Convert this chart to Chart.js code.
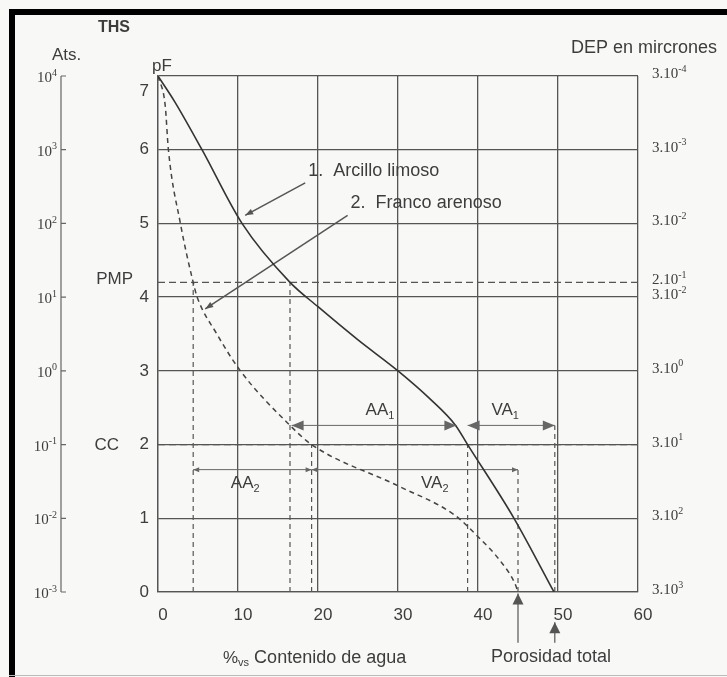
<!DOCTYPE html>
<html>
<head>
<meta charset="utf-8">
<title>Curvas pF - contenido de agua</title>
<script src="https://cdn.jsdelivr.net/npm/chart.js@4.4.0/dist/chart.umd.min.js"></script>
<style>
  html, body { margin: 0; padding: 0; background: #f8f8f7; }
  canvas { display: block; }
</style>
</head>
<body>
<canvas id="grafico" width="727" height="677"></canvas>
<script>
// Curva 1: Arcillo limoso (linea continua)
const arcilloX = [0, 2.1, 5.5, 10.5, 16.5, 20, 25, 30, 34, 37.2, 38.7, 44.5, 49.5];
const arcilloY = [7, 6.65, 6, 5, 4.2, 3.87, 3.42, 3, 2.62, 2.26, 2, 1, 0];

// Curva 2: Franco arenoso (linea discontinua)
const francoX = [0, 0.9, 1.3, 2.8, 4.4, 4.9, 7.3, 10.3, 16.5, 19.2, 30, 37, 40, 42.8, 44.6, 45];
const francoY = [7, 6.6, 6, 5, 4.2, 4, 3.51, 3, 2.26, 2, 1.44, 1.05, 0.75, 0.42, 0.12, 0];

// Lineas de referencia: PMP y CC
const pmp = 4.2;
const cc = 2;

// Verticales discontinuas (x y altura hasta donde llegan)
const guiaX = [4.4, 16.5, 19.2, 38.7, 45, 49.6];
const guiaTope = [4.2, 4.2, 2, 2, 1.66, 2.26];

// Flechas AA1, VA1, AA2, VA2
const flechaY = [2.26, 2.26, 1.66, 1.66];
const flechaIni = [16.7, 38.7, 4.4, 19.2];
const flechaFin = [37.3, 49.6, 19.2, 45];
const flechaNombre = ['AA', 'VA', 'AA', 'VA'];
const flechaSub = ['1', '1', '2', '2'];

// Flechas que señalan las curvas
const guiaCurvaX = [[18.4, 10.9], [23.7, 5.9]];
const guiaCurvaY = [[5.55, 5.11], [5.11, 3.84]];
const nombreCurva = ['1.  Arcillo limoso', '2.  Franco arenoso'];

// Porosidad total (flechas bajo el eje)
const porosidadX = [45, 49.6];
const porosidadTope = [-0.02, -0.41];

// Ejes
const xTicks = [0, 10, 20, 30, 40, 50, 60];
const pfTicks = [0, 1, 2, 3, 4, 5, 6, 7];
const atsExp = ['-3', '-2', '-1', '0', '1', '2', '3', '4'];
const depValor = [7, 6, 5, 4.2, 4, 3, 2, 1, 0];
const depBase = ['3.10', '3.10', '3.10', '2.10', '3.10', '3.10', '3.10', '3.10', '3.10'];
const depExp = ['-4', '-3', '-2', '-1', '-2', '0', '1', '2', '3'];

const GRIS = '#555';
const TEXTO = '#3d3d3d';
const SANS = '"Liberation Sans", Arial, sans-serif';
const SERIF = '"Liberation Serif", "Times New Roman", serif';

function puntos(xs, ys) {
    return xs.map((x, i) => ({ x, y: ys[i] }));
}

function linea(data, extra) {
    return Object.assign({
        data,
        showLine: true,
        borderColor: GRIS,
        borderWidth: 1.2,
        pointRadius: 0,
        fill: false
    }, extra);
}

// Construimos los datasets
const datasets = [];
datasets.push(linea(puntos(arcilloX, arcilloY), {
    borderColor: '#333', borderWidth: 1.6, tension: 0.4, cubicInterpolationMode: 'monotone'
}));
datasets.push(linea(puntos(francoX, francoY), {
    borderColor: '#444', borderWidth: 1.5, borderDash: [5, 4], tension: 0.4, cubicInterpolationMode: 'monotone'
}));
[pmp, cc].forEach(v => {
    datasets.push(linea([{ x: 0, y: v }, { x: 60, y: v }], { borderDash: [7, 4], borderWidth: 1.3 }));
});
guiaX.forEach((x, i) => {
    datasets.push(linea([{ x, y: 0 }, { x, y: guiaTope[i] }], { borderDash: [5, 4], borderWidth: 1.2 }));
});
flechaY.forEach((y, i) => {
    const grande = i < 2;
    datasets.push(linea([{ x: flechaIni[i], y }, { x: flechaFin[i], y }], {
        borderColor: '#666', borderWidth: 1,
        punta: { ini: true, fin: true, largo: grande ? 12 : 6, ancho: grande ? 10 : 5 }
    }));
});
guiaCurvaX.forEach((xs, i) => {
    datasets.push(linea(puntos(xs, guiaCurvaY[i]), {
        borderColor: '#555', borderWidth: 1.5,
        punta: { ini: false, fin: true, largo: 8, ancho: 6 }
    }));
});
porosidadX.forEach((x, i) => {
    datasets.push(linea([{ x, y: -0.69 }, { x, y: porosidadTope[i] }], {
        borderColor: '#555', borderWidth: 1.2, clip: false,
        punta: { ini: false, fin: true, largo: 11, ancho: 11 }
    }));
});

// Dibujamos una punta de flecha en el extremo b
function triangulo(ctx, a, b, largo, ancho) {
    const ang = Math.atan2(b.y - a.y, b.x - a.x);
    ctx.save();
    ctx.translate(b.x, b.y);
    ctx.rotate(ang);
    ctx.beginPath();
    ctx.moveTo(0, 0);
    ctx.lineTo(-largo, -ancho / 2);
    ctx.lineTo(-largo, ancho / 2);
    ctx.closePath();
    ctx.fill();
    ctx.restore();
}

// Texto con partes de distinto tamaño (indices y exponentes)
function escribir(ctx, partes, x, y, align, familia) {
    let ancho = 0;
    partes.forEach(p => {
        ctx.font = (p.peso || '') + ' ' + p.size + 'px ' + (familia || SANS);
        ancho += ctx.measureText(p.t).width;
    });
    let cx = align === 'right' ? x - ancho : (align === 'center' ? x - ancho / 2 : x);
    partes.forEach(p => {
        ctx.font = (p.peso || '') + ' ' + p.size + 'px ' + (familia || SANS);
        ctx.fillText(p.t, cx, y + (p.dy || 0));
        cx += ctx.measureText(p.t).width;
    });
}

const dibujos = {
    id: 'dibujos',
    beforeDraw(chart) {
        const ctx = chart.ctx;
        ctx.save();
        ctx.fillStyle = '#f8f8f7';
        ctx.fillRect(0, 0, chart.width, chart.height);
        ctx.restore();
    },
    afterDatasetsDraw(chart) {
        const ctx = chart.ctx;
        chart.data.datasets.forEach((ds, i) => {
            if (!ds.punta) return;
            const pts = chart.getDatasetMeta(i).data;
            const n = pts.length;
            ctx.save();
            ctx.fillStyle = ds.borderColor;
            if (ds.punta.fin) triangulo(ctx, pts[n - 2], pts[n - 1], ds.punta.largo, ds.punta.ancho);
            if (ds.punta.ini) triangulo(ctx, pts[1], pts[0], ds.punta.largo, ds.punta.ancho);
            ctx.restore();
        });
    },
    afterDraw(chart) {
        const ctx = chart.ctx;
        const xs = chart.scales.x;
        const ys = chart.scales.y;
        const px = v => xs.getPixelForValue(v);
        const py = v => ys.getPixelForValue(v);
        ctx.save();
        ctx.fillStyle = TEXTO;
        ctx.textBaseline = 'middle';
        ctx.textAlign = 'left';

        // Eje exterior de atmosferas
        ctx.strokeStyle = '#666';
        ctx.lineWidth = 1.2;
        ctx.beginPath();
        ctx.moveTo(61, py(7));
        ctx.lineTo(61, py(0));
        pfTicks.forEach(v => {
            ctx.moveTo(61, py(v));
            ctx.lineTo(66, py(v));
        });
        ctx.stroke();
        pfTicks.forEach((v, i) => {
            escribir(ctx, [{ t: '10', size: 15 }, { t: atsExp[i], size: 10, dy: -5 }], 57, py(v) + 2, 'right', SERIF);
        });

        // Etiquetas DEP a la derecha
        depValor.forEach((v, i) => {
            escribir(ctx, [{ t: depBase[i], size: 15 }, { t: depExp[i], size: 10, dy: -5 }], 652, py(v) - 2, 'left', SERIF);
        });

        // Titulos
        escribir(ctx, [{ t: 'THS', size: 16, peso: 'bold' }], 98, 28, 'left');
        escribir(ctx, [{ t: 'Ats.', size: 17 }], 52, 55, 'left');
        escribir(ctx, [{ t: 'pF', size: 17 }], 152, 66, 'left');
        escribir(ctx, [{ t: '7', size: 17 }], 149, py(7) + 15, 'right');
        escribir(ctx, [{ t: 'DEP en mircrones', size: 18 }], 717, 48, 'right');
        escribir(ctx, [{ t: 'PMP', size: 17 }], 133, py(pmp) - 3, 'right');
        escribir(ctx, [{ t: 'CC', size: 17 }], 119, py(cc) + 1, 'right');

        // Nombres de las curvas
        nombreCurva.forEach((t, i) => {
            escribir(ctx, [{ t, size: 18 }], px(guiaCurvaX[i][0]) + 3, py(guiaCurvaY[i][0]) - 12, 'left');
        });

        // AA y VA
        const etiqX = [27.75, 43.4, 10.9, 34.6];
        const etiqY = [2.46, 2.46, 1.47, 1.47];
        flechaNombre.forEach((t, i) => {
            escribir(ctx, [{ t, size: 17 }, { t: flechaSub[i], size: 11, dy: 5 }], px(etiqX[i]), py(etiqY[i]), 'center');
        });

        // Eje x: titulo y porosidad
        escribir(ctx, [{ t: '%', size: 17 }, { t: 'vs', size: 11, dy: 5 }, { t: ' Contenido de agua', size: 18 }], 223, 658, 'left');
        escribir(ctx, [{ t: 'Porosidad total', size: 18 }], 551, 657, 'center');

        // Marco negro del escaneo
        ctx.fillStyle = '#000';
        ctx.fillRect(9, 9, 718, 6);
        ctx.fillRect(9, 9, 6, 668);
        ctx.fillStyle = '#bbb';
        ctx.fillRect(9, 675, 718, 1);
        ctx.restore();
    }
};

Chart.defaults.font.family = SANS;
Chart.defaults.color = TEXTO;

const grafico = new Chart(document.getElementById('grafico'), {
    type: 'scatter',
    data: { datasets },
    options: {
        responsive: false,
        animation: false,
        devicePixelRatio: 1,
        layout: { padding: { top: 76, left: 0, right: 89, bottom: 0 } },
        plugins: { legend: { display: false }, tooltip: { enabled: false } },
        scales: {
            x: {
                type: 'linear', min: 0, max: 60,
                afterFit: s => { s.height = 85; },
                afterBuildTicks: s => { s.ticks = xTicks.map(v => ({ value: v })); },
                ticks: { padding: 13, labelOffset: 5, font: { size: 17 }, color: TEXTO },
                grid: { color: GRIS, lineWidth: 1.3, drawTicks: false },
                border: { color: GRIS, width: 1.3 }
            },
            y: {
                type: 'linear', min: 0, max: 7,
                afterFit: s => { s.width = 158; },
                afterBuildTicks: s => { s.ticks = pfTicks.map(v => ({ value: v })); },
                ticks: { padding: 9, font: { size: 17 }, color: TEXTO, callback: v => (v === 7 ? '' : v) },
                grid: { color: GRIS, lineWidth: 1.3, drawTicks: false },
                border: { color: GRIS, width: 1.3 }
            }
        }
    },
    plugins: [dibujos]
});
</script>
</body>
</html>
